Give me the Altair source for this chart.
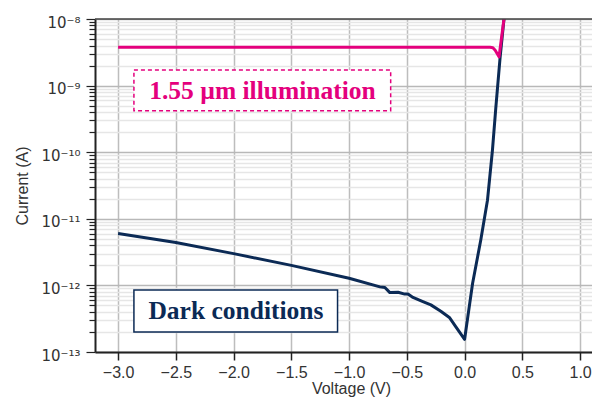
import altair as alt
import pandas as pd

# ---- data ----
DARK_V = [-3.0, -2.5, -2.0, -1.5, -1.0, -0.733, -0.69, -0.647, -0.576, -0.518, -0.49,
          -0.447, -0.361, -0.292, -0.206, -0.132, -0.077, 0.0, 0.069, 0.14, 0.198,
          0.241, 0.27, 0.307, 0.341, 0.36]
DARK_I = [6.0e-12, 4.4e-12, 3.0e-12, 2.0e-12, 1.28e-12, 9.5e-13, 9.3e-13, 7.8e-13, 7.9e-13,
          7.4e-13, 7.4e-13, 6.6e-13, 5.7e-13, 5.1e-13, 4.1e-13, 3.3e-13, 2.4e-13, 1.55e-13,
          1.07e-12, 4.8e-12, 1.9e-11, 1.07e-10, 4.6e-10, 2.6e-9, 1.0e-8, 2.0e-8]

ILLUM_V = [-3.0, 0.22, 0.245, 0.265, 0.298, 0.341, 0.36]
ILLUM_I = [3.76e-9, 3.76e-9, 3.7e-9, 3.4e-9, 2.7e-9, 1.0e-8, 2.0e-8]

X_TICKS = [-3.0, -2.5, -2.0, -1.5, -1.0, -0.5, 0.0, 0.5, 1.0]
DECADES = [-13, -12, -11, -10, -9, -8]
DECADE_LABELS = ["10⁻¹³", "10⁻¹²", "10⁻¹¹", "10⁻¹⁰", "10⁻⁹", "10⁻⁸"]
MINOR_MULT = [2, 3, 4, 5, 6, 7, 8, 9]

ANNOT_TEXT = ["1.55 µm illumination", "Dark conditions"]

X_DOMAIN = [-3.2, 1.103]
Y_DOMAIN = [1e-13, 1e-8]

PINK = "#e4007d"
NAVY = "#0b2a55"

y_values = []
for d in DECADES:
    y_values.append(10.0 ** d)
    if d < -8:
        for m in MINOR_MULT:
            y_values.append(m * 10.0 ** d)

is_major = "abs(log(datum.value)/LN10 - round(log(datum.value)/LN10)) < 0.01"
lab = "''"
for d, t in zip(DECADES, DECADE_LABELS):
    lab = f"(round(log(datum.value)/LN10) == {d} ? '{t}' : {lab})"
label_expr = f"{is_major} ? {lab} : ''"

dark = pd.DataFrame({"V": DARK_V, "I": DARK_I})
illum = pd.DataFrame({"V": ILLUM_V, "I": ILLUM_I})

xscale = alt.Scale(domain=X_DOMAIN, nice=False, zero=False)
yscale = alt.Scale(type="log", domain=Y_DOMAIN, nice=False)

xenc = alt.X("V:Q", scale=xscale, title="Voltage (V)",
             axis=alt.Axis(values=X_TICKS, format=".1f", gridColor="#bdbdbd", gridWidth=1.5,
                           tickSize=8, tickColor="#222", tickWidth=1.5, domainColor="#222",
                           domainWidth=2, labelFontSize=16, labelPadding=4, titleFontSize=16,
                           titleFontWeight="normal", titleY=44.5, titleX=256, titleBaseline="bottom",
                           labelFont="Liberation Sans", titleFont="Liberation Sans",
                           labelColor="#333", titleColor="#333", labelFlush=False))
yenc = alt.Y("I:Q", scale=yscale, title="Current (A)",
             axis=alt.Axis(values=y_values, labelExpr=label_expr,
                           gridColor={"condition": {"test": is_major, "value": "#b8b8b8"}, "value": "#e6e6e6"},
                           gridWidth=1.5,
                           tickSize={"condition": {"test": is_major, "value": 9}, "value": 6},
                           tickColor="#222", tickWidth=1.2, domainColor="#222", domainWidth=2,
                           labelFontSize=15, labelPadding=6, labelOffset=3, titleFontSize=16,
                           titleFontWeight="normal", titlePadding=10,
                           labelFont="DejaVu Sans", titleFont="Liberation Sans",
                           labelColor="#333", titleColor="#333", labelFlush=False, labelOverlap=False))

line_dark = alt.Chart(dark).mark_line(color=NAVY, strokeWidth=3, clip=True, strokeJoin="round").encode(
    x=xenc, y=yenc)
line_illum = alt.Chart(illum).mark_line(color=PINK, strokeWidth=3, clip=True, strokeJoin="round").encode(
    x="V:Q", y="I:Q")

# top frame line, in data space
top_rule = alt.Chart(pd.DataFrame({"a": [0]})).mark_rule(color="#444", strokeWidth=1.5).encode(
    x=alt.datum(X_DOMAIN[0]), x2=alt.datum(X_DOMAIN[1]), y=alt.datum(Y_DOMAIN[1]))

# annotation boxes anchored in data space
boxes = pd.DataFrame({
    "x1": [-2.863, -2.863], "x2": [-0.64, -1.10],
    "y1": [1.71e-9, 8.5e-13], "y2": [4.2e-10, 2.0e-13],
    "xc": [-1.75, -1.98], "yc": [8.4e-10, 4.13e-13],
    "label": ANNOT_TEXT,
})
pink_box = alt.Chart(boxes.iloc[[0]]).mark_rect(fill="white", stroke=PINK, strokeWidth=1.5,
                                                 strokeDash=[4, 3]).encode(
    x="x1:Q", x2="x2:Q", y="y1:Q", y2="y2:Q")
navy_box = alt.Chart(boxes.iloc[[1]]).mark_rect(fill="white", stroke=NAVY, strokeWidth=1.5).encode(
    x="x1:Q", x2="x2:Q", y="y1:Q", y2="y2:Q")
pink_text = alt.Chart(boxes.iloc[[0]]).mark_text(color=PINK, font="Liberation Serif", fontWeight="bold",
                                                  fontSize=25.5, baseline="middle", align="center").encode(
    x="xc:Q", y="yc:Q", text="label:N")
navy_text = alt.Chart(boxes.iloc[[1]]).mark_text(color=NAVY, font="Liberation Serif", fontWeight="bold",
                                                  fontSize=25.5, baseline="middle", align="center").encode(
    x="xc:Q", y="yc:Q", text="label:N")

chart = alt.layer(line_dark, line_illum, top_rule, pink_box, pink_text, navy_box, navy_text).properties(
    width=497, height=333,
    autosize=alt.AutoSizeParams(type="none"),
    padding={"left": 87, "top": 11, "right": 0, "bottom": 45},
).configure_view(stroke=None)

chart.save("out.html", embed_options={"renderer": "svg", "actions": False})
